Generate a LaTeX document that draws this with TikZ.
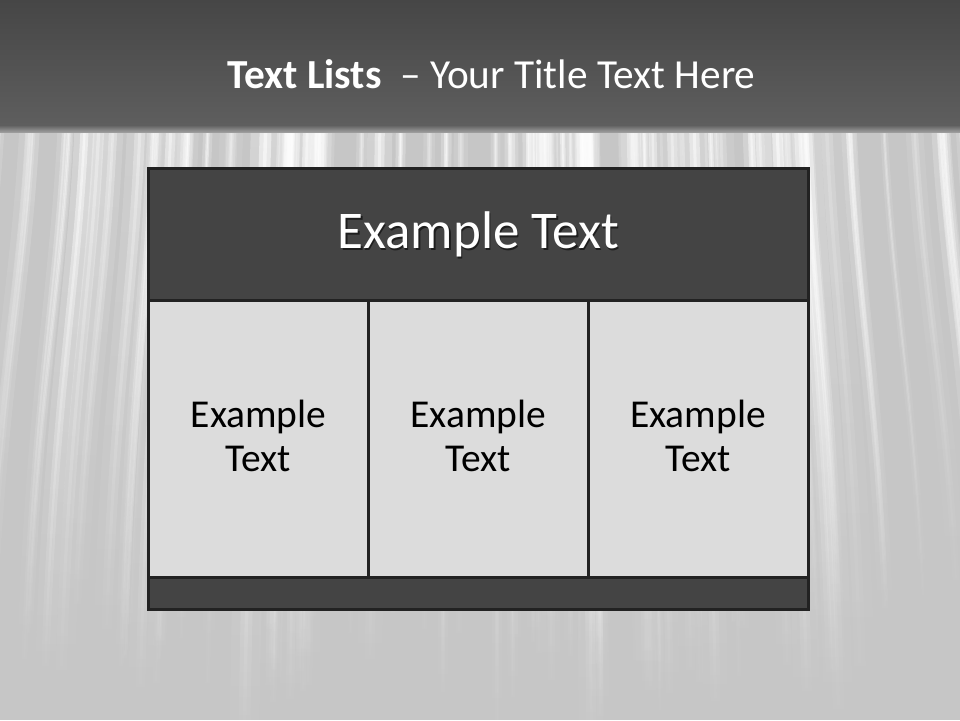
\documentclass[tikz,border=0pt]{standalone}
\usepackage{fontspec}
\setmainfont{Carlito}
\usetikzlibrary{fadings}
\definecolor{barTop}{HTML}{464646}
\definecolor{barBot}{HTML}{5E5E5E}
\definecolor{bgGrey}{HTML}{C6C6C6}
\definecolor{boxDark}{HTML}{444444}
\definecolor{boxLine}{HTML}{222222}
\definecolor{cellFill}{HTML}{DCDCDC}
\tikzset{
  panel/.style={draw=boxLine, line width=3pt, inner sep=0pt, outer sep=0pt, anchor=north west},
  darkpanel/.style={panel, fill=boxDark},
  cellbox/.style={panel, fill=cellFill, minimum width=219.77pt, minimum height=277pt},
  celltext/.style={align=center, font=\fontsize{39.5pt}{44.7pt}\selectfont, text=black, inner sep=0pt},
  streak/.style={white, line cap=round, path fading=south}
}
\begin{document}
\begin{tikzpicture}[x=1pt,y=-1pt]
\useasboundingbox (0,0) rectangle (960,720);
% background
\fill[bgGrey] (0,120) rectangle (960,720);
\pgfmathsetseed{11}
\foreach \i in {1,...,80}{
  \pgfmathsetmacro{\xx}{rnd*980-10}
  \pgfmathsetmacro{\ww}{3+rnd*9}
  \pgfmathsetmacro{\oo}{0.18+rnd*0.35}
  \pgfmathsetmacro{\dd}{(\xx-480)*0.10}
  \pgfmathsetmacro{\yy}{620+rnd*140}
  \draw[streak, line width=2.5*\ww pt, opacity=0.5*\oo]
     (\xx,128) .. controls (\xx+0.2*\dd,300) and (\xx+0.8*\dd,400) .. (\xx+\dd,\yy);
  \draw[streak, line width=\ww pt, opacity=\oo]
     (\xx,128) .. controls (\xx+0.2*\dd,300) and (\xx+0.8*\dd,400) .. (\xx+\dd,\yy);
  \draw[streak, line width=0.3*\ww pt, opacity=\oo]
     (\xx,128) .. controls (\xx+0.2*\dd,300) and (\xx+0.8*\dd,400) .. (\xx+\dd,\yy);
}
% title bar
\shade[top color=barTop, bottom color=barBot] (0,0) rectangle (960,125);
\shade[top color=barBot, bottom color=barBot!40!bgGrey] (0,125) rectangle (960,132);
\node[anchor=base, text=white, font=\fontsize{41.3pt}{50pt}\selectfont] (title) at (491.5,88)
  {\textbf{Text Lists}\ \ – Your Title Text Here};
% table
\node[darkpanel, minimum width=659.3pt, minimum height=131.8pt] (head) at (148.7,168.7) {};
\node[text=black, opacity=0.55, font=\fontsize{53pt}{60pt}\selectfont] at ([xshift=1.5pt,yshift=-1.5pt]head.center) {Example Text};
\node[text=white, font=\fontsize{53pt}{60pt}\selectfont] (headtext) at (head.center) {Example Text};
\node[cellbox] (c1) at (148.7,300.5) {};
\node[cellbox] (c2) at (368.47,300.5) {};
\node[cellbox] (c3) at (588.23,300.5) {};
\foreach \c in {c1,c2,c3}{
  \node[celltext] (\c t) at ([yshift=3pt]\c.center) {Example\\Text};
}
\node[darkpanel, minimum width=659.3pt, minimum height=31.5pt] (foot) at (148.7,577.5) {};
\end{tikzpicture}
\end{document}
